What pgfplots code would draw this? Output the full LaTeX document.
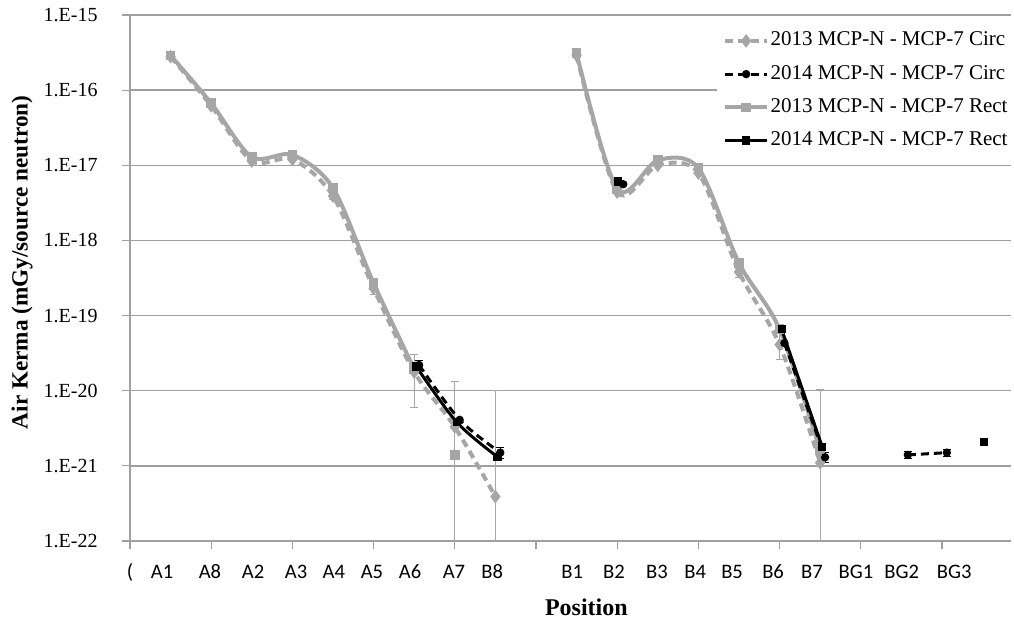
\documentclass[border=0pt]{standalone}
\usepackage{fontspec}
\setmainfont{Liberation Serif}
\newfontfamily\carlito{Carlito}
\usepackage{pgfplots}
\pgfplotsset{compat=1.18}
\definecolor{lg}{RGB}{166,166,166}
\definecolor{gridc}{RGB}{160,160,160}
\pgfplotsset{
  circA/.style={lg, line width=2pt, dash pattern=on 4pt off 2.5pt, mark=diamond*, mark size=1.8pt, mark options={solid, fill=lg, draw=lg}},
  rectA/.style={lg, line width=2pt, solid, mark=square*, mark size=1.4pt, mark options={solid, fill=lg, draw=lg}},
  circB/.style={black, line width=1.5pt, dash pattern=on 4pt off 2.5pt, mark=*, mark size=1.3pt, mark options={solid}},
  rectB/.style={black, line width=1.5pt, solid, mark=square*, mark size=1.3pt, mark options={solid}},
}
\begin{document}
\begin{tikzpicture}
\useasboundingbox (-65pt,-40.5pt) rectangle (442pt,270.5pt);
\begin{axis}[
  scale only axis, width=440.5pt, height=263pt,
  xmin=0, xmax=21.7, ymode=log, ymin=1e-22, ymax=1e-15,
  axis x line*=bottom, axis y line*=left,
  axis line style={draw=gridc, line width=0.6pt},
  tick style={gridc, line width=0.6pt}, major tick length=4pt, tick align=outside,
  xtick={0,2,...,20}, xticklabels={},
  extra x ticks={0,0.79,1.97,3.03,4.09,5.02,5.96,6.90,7.98,8.92,10.89,11.92,12.98,13.92,14.83,15.84,16.80,17.88,19.01,20.3},
  extra x tick labels={{(},A1,A8,A2,A3,A4,A5,A6,A7,B8,B1,B2,B3,B4,B5,B6,B7,BG1,BG2,BG3},
  extra x tick style={major tick length=0pt, xticklabel style={font=\carlito\fontsize{10.3}{12}\selectfont, anchor=center, yshift=-15.5pt}},
  ytick={1e-22,1e-21,1e-20,1e-19,1e-18,1e-17,1e-16,1e-15},
  yticklabels={1.E-22,1.E-21,1.E-20,1.E-19,1.E-18,1.E-17,1.E-16,1.E-15},
  yticklabel style={font=\fontsize{10}{12}\selectfont, anchor=east, inner sep=0pt, xshift=-12pt},
  yminorticks=false,
  ymajorgrids, grid style={gridc, line width=0.75pt},
  xlabel={\bfseries Position}, ylabel={\bfseries Air Kerma (mGy/source neutron)},
  every axis x label/.style={at={(rel axis cs:0.518,0)}, yshift=-33pt, anchor=center, font=\fontsize{12}{14}\selectfont},
  every axis y label/.style={at={(rel axis cs:0,0.53)}, xshift=-54pt, rotate=90, anchor=center, font=\fontsize{11.6}{14}\selectfont},
  legend image code/.code={\draw[mark repeat=2,mark phase=2,#1] plot coordinates {(0pt,0pt) (10.5pt,0pt) (21pt,0pt)};},
  legend style={at={(rel axis cs:0.666,0.985)}, anchor=north west, draw=none, fill=white, inner sep=3pt,
    font=\fontsize{10.5}{12}\selectfont, row sep=5pt, nodes={text height=7.5pt, text depth=2.5pt, inner sep=0.8pt}},
  legend cell align=left,
]
\addlegendimage{circA}\addlegendentry{2013 MCP-N - MCP-7 Circ}
\addlegendimage{circB}\addlegendentry{2014 MCP-N - MCP-7 Circ}
\addlegendimage{rectA}\addlegendentry{2013 MCP-N - MCP-7 Rect}
\addlegendimage{rectB}\addlegendentry{2014 MCP-N - MCP-7 Rect}

% error bars (gray)
\addplot[draw=none, forget plot, error bars/.cd, y dir=both, y explicit,
  error bar style={lg, line width=0.5pt, solid}, error mark options={lg, rotate=90, mark size=2pt, line width=0.5pt}]
  coordinates {
  (5,3.9e-18) += (0,0.4e-18) -= (0,0.4e-18)
  (6,2.3e-19) += (0,0.4e-19) -= (0,0.4e-19)
  (7,1.8e-20) += (0,1.2e-20) -= (0,1.2e-20)
  (8,1.4e-21) += (0,1.18e-20) -= (0,1.399e-21)
  (9,3.9e-22) += (0,9.6e-21) -= (0,3.89e-22)
  (15,3.8e-19) += (0,0.6e-19) -= (0,0.6e-19)
  (16,4.1e-20) += (0,2.3e-20) -= (0,1.5e-20)
  (17,1.6e-21) += (0,8.9e-21) -= (0,1.59e-21)
  };
% 2013 Circ
\addplot[circA, smooth, forget plot] coordinates {
  (1,2.8e-16) (2,6.2e-17) (3,1.14e-17) (4,1.2e-17) (5,3.9e-18) (6,2.3e-19) (7,1.78e-20) (8,3.3e-21) (9,3.9e-22)};
\addplot[circA, smooth, forget plot] coordinates {
  (11,2.9e-16) (12,4.4e-18) (13,1.0e-17) (14,7.9e-18) (15,3.8e-19) (16,4.1e-20) (17,1.1e-21)};
% 2013 Rect
\addplot[rectA, smooth, forget plot] coordinates {
  (1,2.9e-16) (2,6.7e-17) (3,1.29e-17) (4,1.38e-17) (5,5.0e-18) (6,2.7e-19) (7,1.95e-20)};
\addplot[rectA, only marks, forget plot] coordinates {(8,1.4e-21)};
\addplot[rectA, smooth, forget plot] coordinates {
  (11,3.1e-16) (12,4.83e-18) (13,1.17e-17) (14,9.2e-18) (15,5.0e-19) (16,6.6e-20) (17,1.6e-21)};
% error bars (black)
\addplot[draw=none, forget plot, error bars/.cd, y dir=both, y explicit,
  error bar style={black, line width=0.5pt, solid}, error mark options={black, rotate=90, mark size=2pt, line width=0.5pt}]
  coordinates {
  (7.12,2.2e-20) += (0,0.3e-20) -= (0,0.3e-20)
  (9.12,1.5e-21) += (0,0.25e-21) -= (0,0.25e-21)
  (17.12,1.3e-21) += (0,0.2e-21) -= (0,0.2e-21)
  (19.16,1.4e-21) += (0,0.15e-21) -= (0,0.15e-21)
  (20.12,1.5e-21) += (0,0.15e-21) -= (0,0.15e-21)
  };
% 2014 Circ
\addplot[circB, smooth, forget plot] coordinates {(7.12,2.2e-20) (8.12,4.1e-21) (9.12,1.5e-21)};
\addplot[circB, only marks, forget plot] coordinates {(12.15,5.6e-18)};
\addplot[circB, forget plot] coordinates {(16.12,4.3e-20) (17.12,1.3e-21)};
\addplot[circB, forget plot] coordinates {(19.16,1.4e-21) (20.12,1.5e-21)};
% 2014 Rect
\addplot[rectB, smooth, forget plot] coordinates {(7.05,2.1e-20) (8.05,3.8e-21) (9.05,1.32e-21)};
\addplot[rectB, only marks, forget plot] coordinates {(12.02,6.1e-18)};
\addplot[rectB, forget plot] coordinates {(16.05,6.6e-20) (17.05,1.8e-21)};
\addplot[rectB, only marks, forget plot] coordinates {(21.03,2.1e-21)};
\end{axis}
\end{tikzpicture}
\end{document}
